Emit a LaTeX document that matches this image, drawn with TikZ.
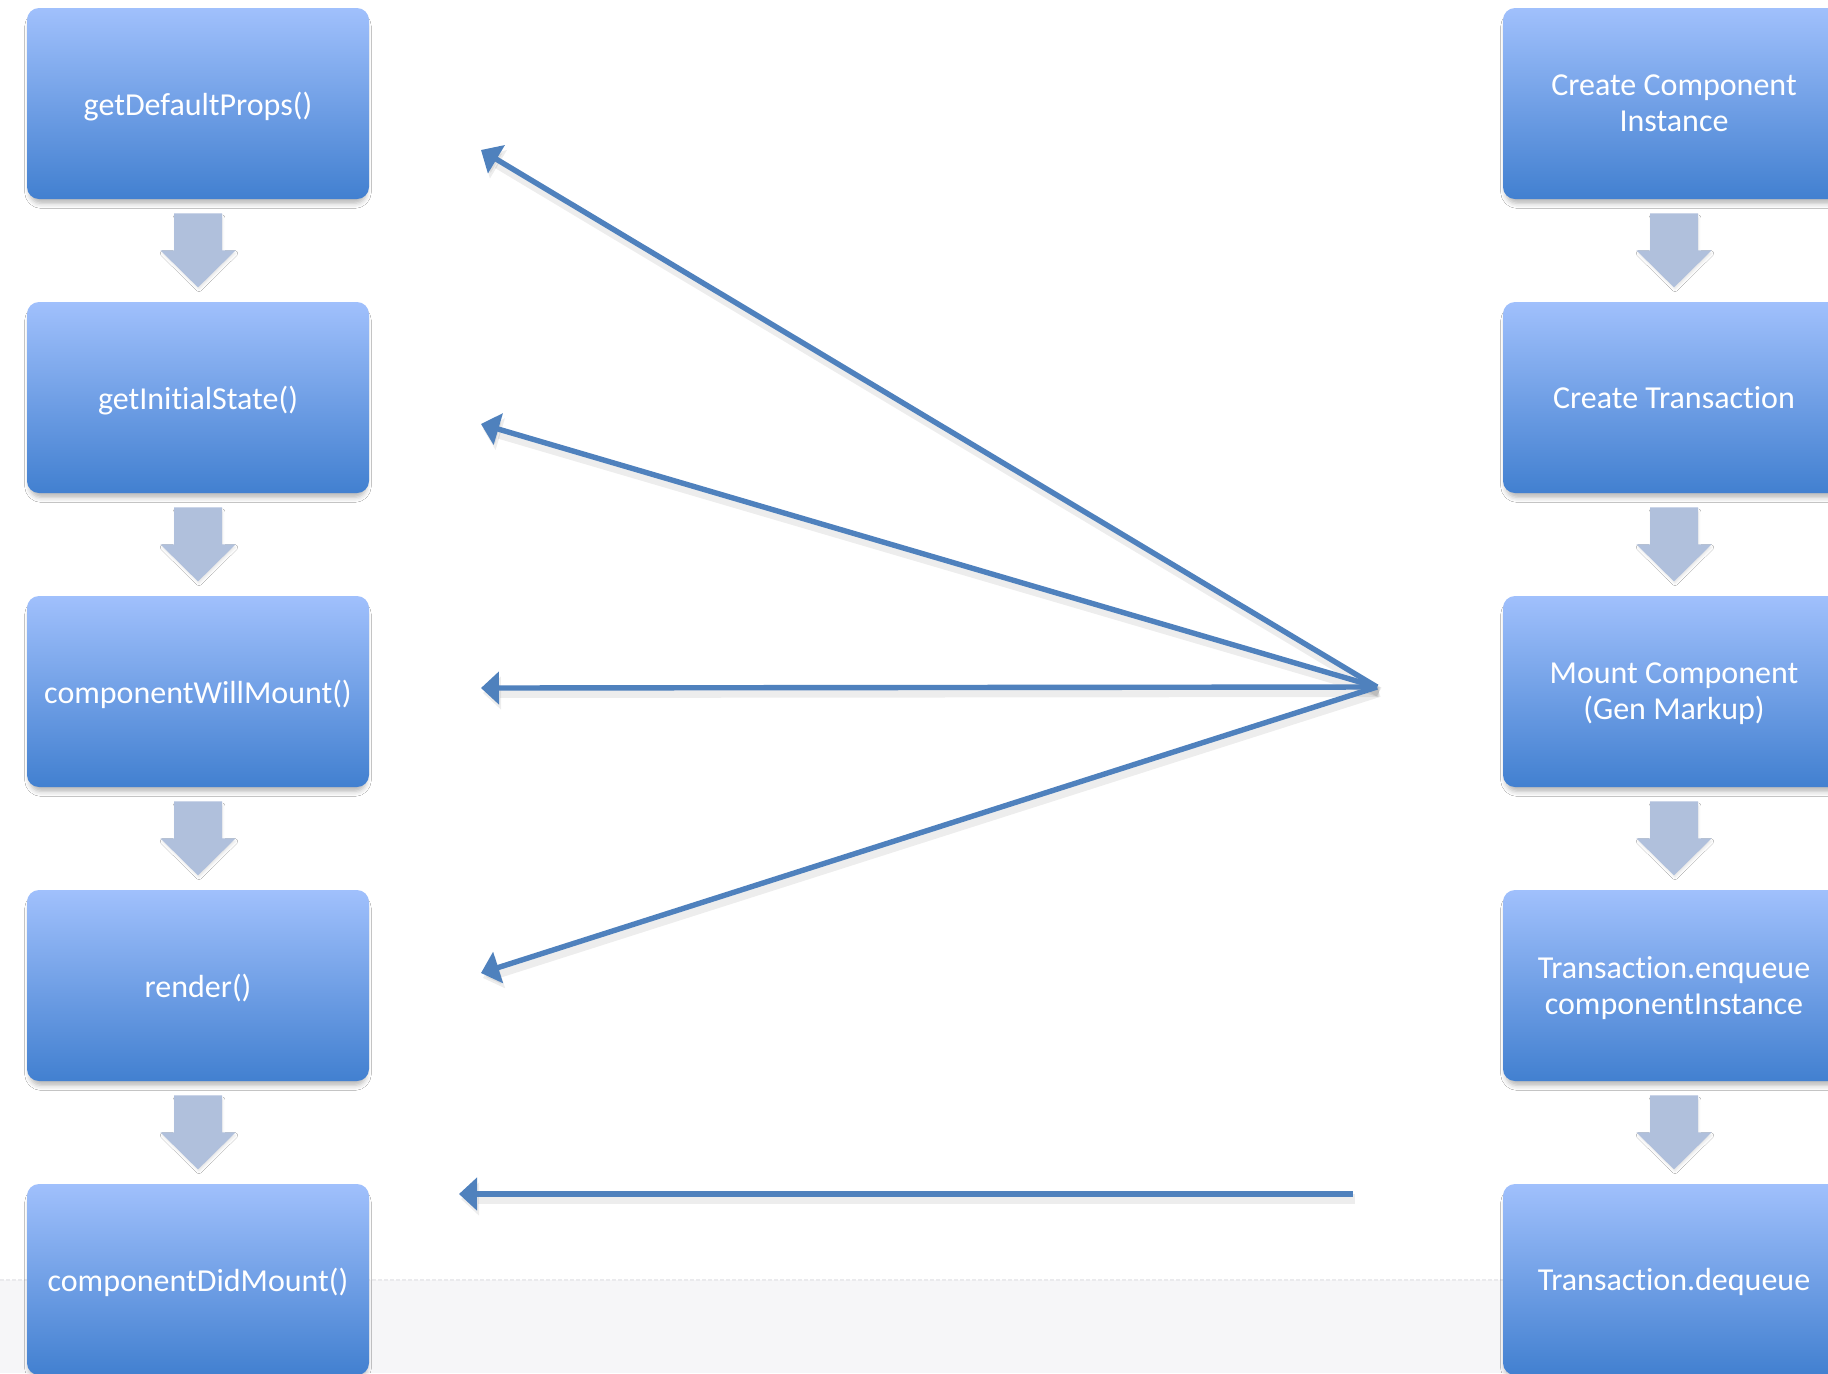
\documentclass[tikz,border=0pt]{standalone}
\usepackage{fontspec}
\setmainfont{Carlito}[Ligatures=NoCommon]
\usetikzlibrary{calc,arrows.meta,shadows.blur}

\definecolor{boxtop}{RGB}{160,192,252}
\definecolor{boxbot}{RGB}{66,128,208}
\definecolor{flowgrey}{RGB}{176,192,220}
\definecolor{linkblue}{RGB}{79,129,189}
\definecolor{band}{RGB}{246,246,248}
\definecolor{bandedge}{RGB}{234,234,237}

\tikzset{
  stage/.style={rounded corners=6pt, top color=boxtop, bottom color=boxbot,
    minimum width=171pt, minimum height=95.5pt, inner sep=0pt, text depth=0pt,
    text=white, align=center, font=\fontsize{16}{18}\selectfont,
    blur shadow={shadow xshift=0pt, shadow yshift=-3pt, shadow scale=0.985,
      shadow blur radius=2.5pt, shadow opacity=28}},
  flowarrow/.style={fill=flowgrey,
    blur shadow={shadow xshift=0.5pt, shadow yshift=-1.5pt, shadow scale=0.96,
      shadow blur radius=1.5pt, shadow opacity=12}},
  callout/.style={draw=linkblue, line width=2.7pt,
    -{Triangle[length=9pt,width=16pt]},
    preaction={draw=black, opacity=0.07, line width=5pt,
      transform canvas={xshift=1pt, yshift=-2.5pt}}},
}

% block arrow hanging below a stage box
\newcommand\flowdown[1]{%
  \fill[flowarrow] ($(#1.south)+(-24,14)$) -- ($(#1.south)+(24,14)$)
    -- ($(#1.south)+(24,51)$) -- ($(#1.south)+(37.5,51)$)
    -- ($(#1.south)+(0,88)$) -- ($(#1.south)+(-37.5,51)$)
    -- ($(#1.south)+(-24,51)$) -- cycle;}

\begin{document}
\begin{tikzpicture}[x=0.5pt, y=-0.5pt]
  \useasboundingbox (0,0) rectangle (1828,1373);
  \clip (0,0) rectangle (1828,1373);

  % page background with lower band
  \fill[white] (0,0) rectangle (1828,1373);
  \fill[band] (0,1280) rectangle (1828,1373);
  \draw[bandedge, line width=0.6pt, dash pattern=on 2pt off 1pt] (0,1280) -- (1828,1280);

  % lifecycle methods
  \node[stage] (l1) at (198,103.5)  {getDefaultProps()};
  \node[stage] (l2) at (198,397.5)  {getInitialState()};
  \node[stage] (l3) at (198,691.5)  {componentWillMount()};
  \node[stage] (l4) at (198,985.5)  {render()};
  \node[stage] (l5) at (198,1279.5) {componentDidMount()};

  % internal mounting steps
  \node[stage] (r1) at (1674,103.5)  {Create Component\\Instance};
  \node[stage] (r2) at (1674,397.5)  {Create Transaction};
  \node[stage] (r3) at (1674,691.5)  {Mount Component\\(Gen Markup)};
  \node[stage] (r4) at (1674,985.5)  {Transaction.enqueue\\componentInstance};
  \node[stage] (r5) at (1674,1279.5) {Transaction.dequeue};

  % flow between consecutive steps
  \foreach \n in {l1,l2,l3,l4,r1,r2,r3,r4} {\flowdown{\n}}

  % mount step fans out to the lifecycle methods
  \coordinate (hub) at (1377,687);
  \coordinate (t1) at (481,150);
  \coordinate (t2) at (481,424);
  \coordinate (t3) at (481,688);
  \coordinate (t4) at (481,973);
  \draw[callout] (hub) -- (t1);
  \draw[callout] (hub) -- (t2);
  \draw[callout] (hub) -- (t3);
  \draw[callout] (hub) -- (t4);

  % dequeue triggers componentDidMount
  \coordinate (s5) at (1353,1194);
  \coordinate (t5) at (459,1194);
  \draw[callout] (s5) -- (t5);
\end{tikzpicture}
\end{document}
